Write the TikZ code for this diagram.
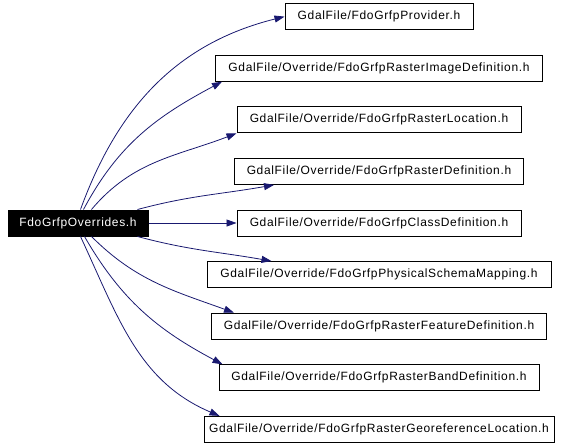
\documentclass[tikz,border=0pt]{standalone}
\usepackage{fontspec}
\newfontfamily\dotfont[LetterSpace=5.5]{Liberation Sans}
\usetikzlibrary{positioning,arrows.meta}
\definecolor{edgeblue}{RGB}{25,25,112}
\begin{document}
\begin{tikzpicture}[
box/.style={draw,rectangle,line width=1pt,minimum height=26pt,inner sep=0pt,font=\dotfont\fontsize{12}{14}\selectfont},
srcbox/.style={box,fill=black,text=white,minimum width=140pt},
dep/.style={draw=edgeblue,line width=0.8pt,-{Triangle[length=10pt,width=7pt]}},
node distance=24.6pt]
\useasboundingbox (0pt,0pt) rectangle (568pt,-445pt);
\node (src) [srcbox] at (78pt,-223pt) {FdoGrfpOverrides.h};
\node (cls) [box,minimum width=284pt,right=88pt of src] {GdalFile/Override/FdoGrfpClassDefinition.h};
\node (rdef) [box,minimum width=289pt,above=of cls] {GdalFile/Override/FdoGrfpRasterDefinition.h};
\node (rloc) [box,minimum width=284pt,above=of rdef] {GdalFile/Override/FdoGrfpRasterLocation.h};
\node (imgdef) [box,minimum width=327pt,above=of rloc] {GdalFile/Override/FdoGrfpRasterImageDefinition.h};
\node (prov) [box,minimum width=188pt,above=of imgdef] {GdalFile/FdoGrfpProvider.h};
\node (phys) [box,minimum width=344pt,below=of cls] {GdalFile/Override/FdoGrfpPhysicalSchemaMapping.h};
\node (feat) [box,minimum width=335pt,below=of phys] {GdalFile/Override/FdoGrfpRasterFeatureDefinition.h};
\node (band) [box,minimum width=320pt,below=of feat] {GdalFile/Override/FdoGrfpRasterBandDefinition.h};
\node (geo) [box,minimum width=350pt,below=of band] {GdalFile/Override/FdoGrfpRasterGeoreferenceLocation.h};
% upward includes
\draw [dep] ([xshift=73pt]src.north west) to[out=70,in=194] (prov.west);
\draw [dep] ([xshift=76pt]src.north west) to[out=62,in=208] ([xshift=7pt]imgdef.south west);
\draw [dep] ([xshift=84pt]src.north west) to[out=50,in=201] (rloc.south west);
\draw [dep] ([xshift=130pt]src.north west) to[out=15,in=190] ([xshift=40pt]rdef.south west);
\draw [dep] (src) -- (cls);
% downward includes
\draw [dep] ([xshift=130pt]src.south west) to[out=-15,in=170] ([xshift=65pt]phys.north west);
\draw [dep] ([xshift=84pt]src.south west) to[out=-45,in=160] ([xshift=23pt]feat.north west);
\draw [dep] ([xshift=77pt]src.south west) to[out=-60,in=152] ([xshift=4pt]band.north west);
\draw [dep] ([xshift=73pt]src.south west) to[out=-65,in=157] ([xshift=16pt]geo.north west);
\end{tikzpicture}
\end{document}
